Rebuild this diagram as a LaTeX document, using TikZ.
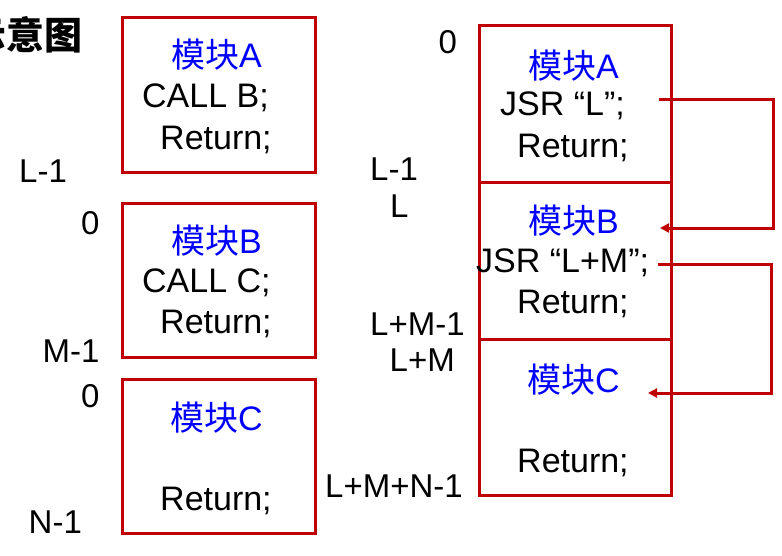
\documentclass[tikz,border=0pt]{standalone}
\usepackage{fontspec}
\setmainfont{Liberation Sans}
\newfontfamily\cjk{Noto Sans CJK SC}
\usetikzlibrary{arrows.meta}
\definecolor{boxred}{HTML}{C00000}
\definecolor{tblue}{HTML}{0000FF}
\begin{document}
\begin{tikzpicture}[x=1pt,y=-1pt,
  txt/.style={inner sep=0pt, anchor=base west, font=\fontsize{34}{38}\selectfont},
  lbl/.style={inner sep=0pt, anchor=base west, font=\fontsize{33}{38}\selectfont},
  mod/.style={txt, text=tblue},
  memb/.style={draw=boxred, line width=3pt, inner sep=0pt},
  link/.style={draw=boxred, line width=3pt, -{Triangle[length=9pt,width=9pt]}}]
\useasboundingbox (0,0) rectangle (782,555);
% title
\node[inner sep=0pt, anchor=base east, font=\fontsize{38}{40}\selectfont\cjk\bfseries] (title) at (83,49) {示意图};
% left boxes
\node[memb, minimum width=193pt, minimum height=155pt] (LA) at (219,95) {};
\node[memb, minimum width=193pt, minimum height=154pt] (LB) at (219,280.5) {};
\node[memb, minimum width=193pt, minimum height=154pt] (LC) at (219,456.5) {};
% right stack
\node[memb, minimum width=192pt, minimum height=156.5pt] (RA) at (575,103.75) {};
\node[memb, minimum width=192pt, minimum height=157pt] (RB) at (575,260.5) {};
\node[memb, minimum width=192pt, minimum height=156.5pt] (RC) at (575,417.25) {};
% left texts
\node[mod] (la1) at (171,67) {{\cjk 模块}A};
\node[txt] (la2) at (142,107) {CALL B;};
\node[txt] (la3) at (160,149) {Return;};
\node[mod] (lb1) at (171,253) {{\cjk 模块}B};
\node[txt] (lb2) at (142,292) {CALL C;};
\node[txt] (lb3) at (160,333) {Return;};
\node[mod] (lc1) at (170,430) {{\cjk 模块}C};
\node[txt] (lc3) at (160,510) {Return;};
% right texts
\node[mod] (ra1) at (528,78) {{\cjk 模块}A};
\node[txt] (ra2) at (500,115) {JSR “L”;};
\node[txt] (ra3) at (517,157) {Return;};
\node[mod] (rb1) at (528,233) {{\cjk 模块}B};
\node[txt] (rb2) at (476,272) {JSR “L+M”;};
\node[txt] (rb3) at (517,313) {Return;};
\node[mod] (rc1) at (527,392) {{\cjk 模块}C};
\node[txt] (rc3) at (517,472) {Return;};
% left address labels
\node[lbl] (al1) at (19,182) {L-1};
\node[lbl] (al2) at (81,234) {0};
\node[lbl] (al3) at (42.5,362) {M-1};
\node[lbl] (al4) at (81,407) {0};
\node[lbl] (al5) at (28.5,533) {N-1};
% right address labels
\node[lbl] (ar1) at (438.5,53) {0};
\node[lbl] (ar2) at (370,180) {L-1};
\node[lbl] (ar3) at (390,217) {L};
\node[lbl] (ar4) at (370,335) {L+M-1};
\node[lbl] (ar5) at (389.5,371) {L+M};
\node[lbl] (ar6) at (325,497) {L+M+N-1};
% jumps
\coordinate (j1) at (659,99);
\coordinate (t1) at (660,228);
\coordinate (j2) at (658,264);
\coordinate (t2) at (648,393);
\draw[link] (j1) -- ++(114,0) |- (t1);
\draw[link] (j2) -- ++(113,0) |- (t2);
\end{tikzpicture}
\end{document}
